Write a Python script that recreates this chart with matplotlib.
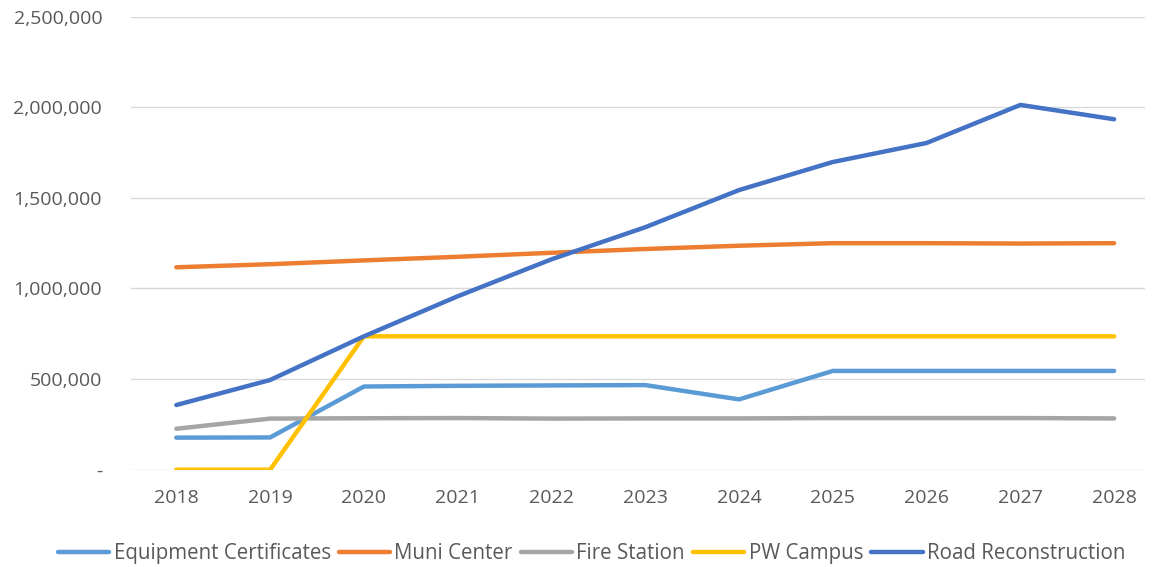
import matplotlib.pyplot as plt
from matplotlib.ticker import FuncFormatter

years = [2018, 2019, 2020, 2021, 2022, 2023, 2024, 2025, 2026, 2027, 2028]

equipment = [177000, 178000, 459000, 463000, 465000, 467000, 388000, 545000, 545000, 545000, 545000]
muni = [1117000, 1134000, 1155000, 1175000, 1197000, 1218000, 1236000, 1250000, 1250000, 1248000, 1250000]
fire = [226000, 282000, 284000, 285000, 282000, 283000, 283000, 285000, 285000, 285000, 283000]
pw = [0, 0, 736000, 736000, 736000, 736000, 736000, 736000, 736000, 736000, 736000]
road = [357000, 495000, 736000, 957000, 1161000, 1338000, 1543000, 1698000, 1803000, 2013000, 1934000]

series = [
    ('Equipment Certificates', equipment, '#5B9BD5'),
    ('Muni Center', muni, '#ED7D31'),
    ('Fire Station', fire, '#A5A5A5'),
    ('PW Campus', pw, '#FFC000'),
    ('Road Reconstruction', road, '#4472C4'),
]

plt.rcParams['font.family'] = ['Open Sans', 'DejaVu Sans']

fig = plt.figure(figsize=(11.52, 5.67), dpi=100)
ax = fig.add_axes([0.114, 0.1716, 0.88, 0.799])

for name, vals, col in series:
    ax.plot(years, vals, color=col, linewidth=3.2, label=name, solid_capstyle='round')

ax.set_xlim(2017.52, 2028.33)
ax.set_ylim(0, 2500000)
ax.set_xticks(years)
ax.set_yticks([0, 500000, 1000000, 1500000, 2000000, 2500000])
ax.yaxis.set_major_formatter(FuncFormatter(lambda v, p: '-' if v == 0 else f'{int(v):,}'))
ax.grid(axis='y', color='#D9D9D9', linewidth=1)
ax.set_axisbelow(True)
for s in ax.spines.values():
    s.set_visible(False)
ax.tick_params(length=0, labelsize=14, colors='#595959')
ax.tick_params(axis='x', pad=14)
ax.tick_params(axis='y', pad=21)

ax.legend(loc='center', bbox_to_anchor=(0.454, -0.186), ncol=5, frameon=False,
          fontsize=14.8, labelcolor='#595959', handlelength=2.5, columnspacing=0.4,
          handletextpad=0.2)

plt.savefig('out.png', dpi=100)
